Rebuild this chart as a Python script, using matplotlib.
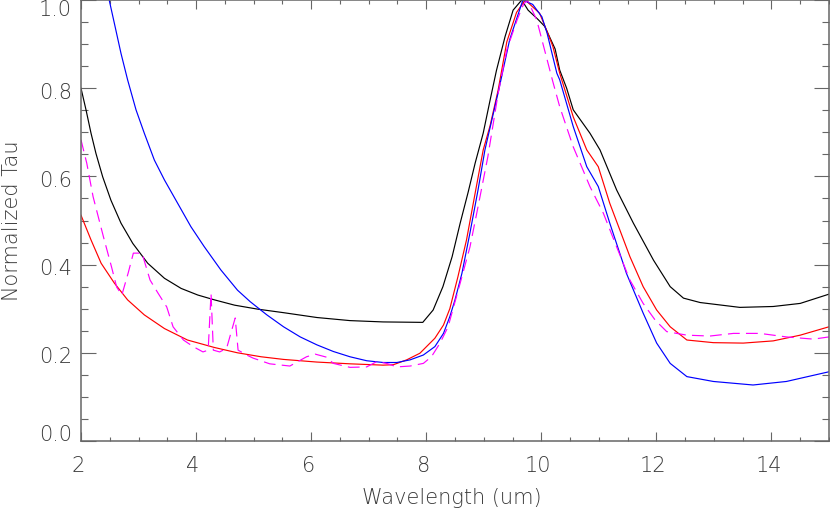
import matplotlib
matplotlib.use("Agg")
import matplotlib.pyplot as plt
import matplotlib.transforms as mtransforms
import numpy as np

# ---- data ----
black_w = [2.0, 2.087, 2.174, 2.26, 2.377, 2.52, 2.695, 2.90, 3.16, 3.45, 3.74, 4.03, 4.32,
           4.67, 5.07, 5.52, 6.10, 6.675, 7.25, 7.94, 8.12, 8.29, 8.45, 8.59, 8.73, 8.85,
           8.99, 9.11, 9.22, 9.37, 9.51, 9.66, 9.77, 9.95, 10.06, 10.24, 10.32, 10.44,
           10.555, 10.845, 11.02, 11.31, 11.60, 11.95, 12.24, 12.47, 12.76, 13.45, 14.03,
           14.50, 15.0]
black_v = [0.80, 0.751, 0.698, 0.652, 0.599, 0.546, 0.494, 0.448, 0.403, 0.369, 0.346, 0.331, 0.320,
           0.308, 0.299, 0.291, 0.280, 0.273, 0.270, 0.269, 0.297, 0.350, 0.418, 0.494, 0.565, 0.63,
           0.698, 0.773, 0.840, 0.917, 0.977, 1.0, 0.977, 0.955, 0.94, 0.889, 0.841, 0.800,
           0.751, 0.698, 0.66, 0.569, 0.494, 0.41, 0.35, 0.324, 0.314, 0.303, 0.305,
           0.312, 0.333]

red_w = [2.0, 2.174, 2.35, 2.58, 2.81, 3.10, 3.45, 3.85, 4.32, 4.72, 5.13, 5.52, 6.10,
         6.675, 7.25, 7.43, 7.66, 7.89, 8.15, 8.30, 8.41, 8.55, 8.70, 8.85, 8.99, 9.11,
         9.25, 9.40, 9.57, 9.72, 9.97, 10.09, 10.20, 10.32, 10.555, 10.79, 10.99, 11.19,
         11.54, 11.77, 12.005, 12.24, 12.53, 12.99, 13.51, 14.03, 14.50, 15.0]
red_v = [0.512, 0.456, 0.403, 0.358, 0.320, 0.286, 0.255, 0.229, 0.212, 0.200, 0.191, 0.185, 0.179,
         0.175, 0.172, 0.173, 0.184, 0.199, 0.233, 0.263, 0.300, 0.372, 0.456, 0.562, 0.66, 0.715,
         0.796, 0.905, 0.972, 1.0, 0.97, 0.932, 0.895, 0.834, 0.735, 0.66, 0.622, 0.539,
         0.418, 0.35, 0.297, 0.259, 0.229, 0.223, 0.222, 0.227, 0.24, 0.259]

blue_w = [2.45, 2.49, 2.58, 2.695, 2.81, 2.956, 3.10, 3.275, 3.45, 3.68, 3.91, 4.14, 4.43,
          4.72, 4.94, 5.23, 5.52, 5.81, 6.10, 6.385, 6.675, 6.965, 7.25, 7.49, 7.72, 7.95,
          8.15, 8.30, 8.41, 8.50, 8.62, 8.76, 8.90, 9.02, 9.25, 9.45, 9.68, 9.85, 10.01,
          10.10, 10.27, 10.32, 10.555, 10.79, 10.99, 11.19, 11.48, 11.77, 12.005, 12.24,
          12.53, 12.99, 13.68, 14.26, 15.0]
blue_v = [1.03, 1.0, 0.947, 0.879, 0.819, 0.751, 0.698, 0.637, 0.592, 0.539, 0.486, 0.441, 0.388,
          0.342, 0.316, 0.286, 0.259, 0.236, 0.218, 0.203, 0.191, 0.182, 0.178, 0.178, 0.184, 0.195,
          0.214, 0.244, 0.282, 0.320, 0.38, 0.472, 0.569, 0.66, 0.79, 0.91, 1.0, 0.99, 0.962,
          0.925, 0.834, 0.819, 0.713, 0.622, 0.577, 0.494, 0.38, 0.29, 0.222, 0.176,
          0.146, 0.135, 0.127, 0.135, 0.157]

mag_w = [2.0, 2.10, 2.21, 2.39, 2.53, 2.62, 2.71, 2.82, 2.91, 3.06, 3.2, 3.34, 3.49,
         3.60, 3.78, 3.95, 4.12, 4.21, 4.26, 4.30, 4.41, 4.53, 4.68, 4.73, 4.88, 4.99,
         5.28, 5.63, 5.92, 6.07, 6.27, 6.385, 6.675, 6.965, 7.14, 7.31, 7.49, 7.72, 7.95,
         8.09, 8.24, 8.38, 8.59, 8.76, 8.90, 9.07, 9.25, 9.40, 9.58, 9.69, 9.76, 9.92,
         10.09, 10.20, 10.32, 10.555, 10.845, 11.08, 11.31, 11.54, 11.77, 11.98, 12.18,
         12.53, 12.93, 13.34, 13.80, 14.26, 14.73, 15.0]
mag_v = [0.683, 0.630, 0.554, 0.463, 0.395, 0.349, 0.331, 0.381, 0.426, 0.426, 0.365, 0.335, 0.304,
         0.259, 0.229, 0.214, 0.202, 0.206, 0.335, 0.206, 0.202, 0.21, 0.279, 0.206, 0.195, 0.188,
         0.175, 0.170, 0.191, 0.197, 0.19, 0.176, 0.167, 0.168, 0.18, 0.176, 0.168, 0.170, 0.176,
         0.191, 0.222, 0.259, 0.358, 0.44, 0.531, 0.644, 0.788, 0.887, 0.955, 0.99, 1.0, 0.955,
         0.87, 0.815, 0.758, 0.667, 0.577, 0.516, 0.44, 0.365, 0.312, 0.274, 0.248,
         0.24, 0.238, 0.244, 0.244, 0.236, 0.231, 0.236]

x_ticks = [2, 4, 6, 8, 10, 12, 14]
x_ticklabels = ["2", "4", "6", "8", "10", "12", "14"]
y_ticks = [0.0, 0.2, 0.4, 0.6, 0.8, 1.0]
y_ticklabels = ["0.0", "0.2", "0.4", "0.6", "0.8", "1.0"]

# ---- style ----
TXT = "#3a3a3a"
AX = "#666666"
plt.rcParams['font.family'] = ['DejaVu Sans']
plt.rcParams['font.weight'] = 200
plt.rcParams['axes.labelweight'] = 200
plt.rcParams['lines.scale_dashes'] = False

fig = plt.figure(figsize=(8.30, 5.13), dpi=100)
ax = fig.add_axes([81/830, 72/513, 748/830, 441/513])

lw = 0.85
ax.plot(black_w, black_v, color="#000000", lw=lw)
ax.plot(red_w, red_v, color="#ff0000", lw=lw)
ax.plot(blue_w, blue_v, color="#0000ff", lw=lw)
ax.plot(mag_w, mag_v, color="#ff00ff", lw=lw, linestyle=(0, (8.5, 4.5)))

ax.set_xlim(2, 15)
ax.set_ylim(0, 1.0)

ax.set_xticks(x_ticks)
ax.set_xticklabels(x_ticklabels)
ax.set_xticks(np.arange(2, 15.01, 0.5), minor=True)
ax.set_yticks(y_ticks)
ax.set_yticklabels(y_ticklabels)
ax.set_yticks(np.arange(0, 1.001, 0.05), minor=True)

ax.tick_params(axis='x', which='major', direction='in', length=6.2, width=0.8,
               color=AX, top=True, bottom=True, labelsize=15, labelcolor=TXT, pad=11)
ax.tick_params(axis='x', which='minor', direction='in', length=3.0, width=0.8,
               color=AX, top=True, bottom=True)
ax.tick_params(axis='y', which='major', direction='in', length=10.8, width=0.8,
               color=AX, left=True, right=True, labelsize=15, labelcolor=TXT, pad=6.5)
ax.tick_params(axis='y', which='minor', direction='in', length=5.3, width=0.8,
               color=AX, left=True, right=True)

for s in ax.spines.values():
    s.set_color(AX)
    s.set_linewidth(1.1)

# label offsets (IDL-like)
dx = mtransforms.ScaledTranslation(-3/100, 0, fig.dpi_scale_trans)
for lab in ax.get_xticklabels():
    lab.set_transform(lab.get_transform() + dx)
dy = mtransforms.ScaledTranslation(0, -2.5/100, fig.dpi_scale_trans)
ylabs = ax.get_yticklabels()
for i, lab in enumerate(ylabs):
    if i == 0:
        lab.set_va('baseline')
    elif i == len(ylabs) - 1:
        lab.set_va('top')
    else:
        lab.set_transform(lab.get_transform() + dy)

ax.set_xlabel("Wavelength (um)", fontsize=15, color=TXT, fontweight=200)
ax.xaxis.set_label_coords(0.496, -0.107)
ax.set_ylabel("Normalized Tau", fontsize=15, color=TXT, fontweight=200)
ax.yaxis.set_label_coords(-0.079, 0.5)

fig.savefig("out.png", dpi=100)
